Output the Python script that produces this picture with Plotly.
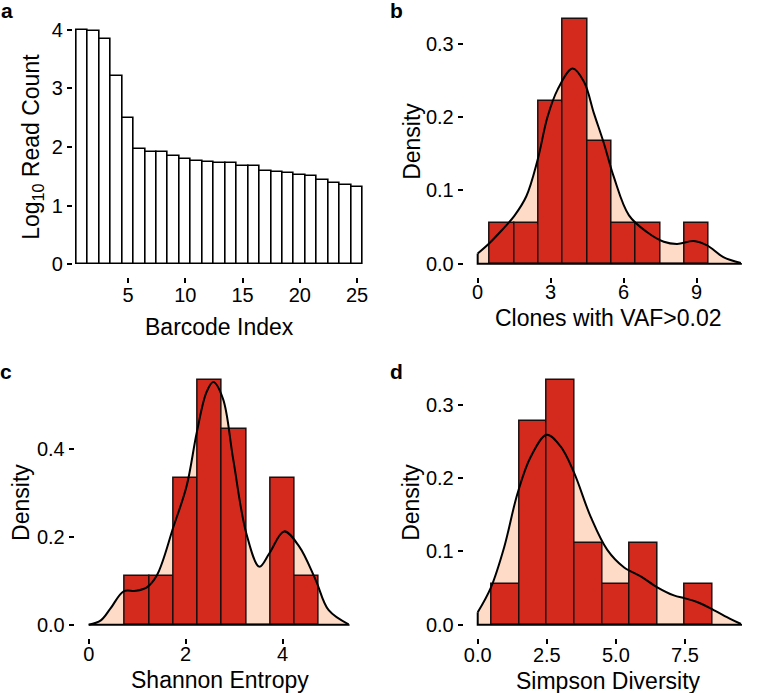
import plotly.graph_objects as go

W, H = 758, 693

# ---------------- data ----------------
# Panel a
barcode_index = list(range(1, 26))
log10_read_count = [4.00, 3.97, 3.85, 3.21, 2.49, 1.96, 1.92, 1.92, 1.84, 1.79,
                    1.76, 1.74, 1.73, 1.73, 1.67, 1.67, 1.59, 1.58, 1.56, 1.52,
                    1.51, 1.43, 1.38, 1.35, 1.32]

# Panel b
clones_bin_center = [1, 2, 3, 4, 5, 6, 7, 8, 9]
clones_density = [0.0556, 0.0556, 0.2222, 0.3333, 0.1667, 0.0556, 0.0556, 0.0, 0.0556]
clones_kde_x = [0.0, 0.48, 1.0, 1.5, 2.0, 2.46, 2.87, 3.28, 3.9, 4.37, 4.78, 5.19,
                5.6, 6.22, 6.97, 7.65, 8.2, 8.88, 9.43, 10.1, 10.82]
clones_kde_y = [0.014, 0.028, 0.046, 0.065, 0.092, 0.141, 0.200, 0.237, 0.266, 0.248,
                0.205, 0.164, 0.118, 0.066, 0.043, 0.030, 0.027, 0.031, 0.025, 0.009, 0.001]

# Panel c
shannon_bin_center = [1.0, 1.5, 2.0, 2.5, 3.0, 3.5, 4.0, 4.5]
shannon_density = [0.111, 0.111, 0.333, 0.556, 0.444, 0.0, 0.333, 0.111]
shannon_kde_x = [0.0, 0.25, 0.45, 0.72, 0.97, 1.2, 1.41, 1.75, 2.02, 2.23, 2.43, 2.57,
                 2.77, 2.98, 3.25, 3.52, 3.73, 4.03, 4.34, 4.68, 4.95, 5.36]
shannon_kde_y = [0.0, 0.010, 0.037, 0.076, 0.077, 0.085, 0.113, 0.223, 0.315, 0.437,
                 0.528, 0.551, 0.513, 0.376, 0.208, 0.132, 0.163, 0.212, 0.178, 0.102,
                 0.033, 0.001]

# Panel d
simpson_bin_center = [1, 2, 3, 4, 5, 6, 7, 8]
simpson_density = [0.0556, 0.2778, 0.3333, 0.1111, 0.0556, 0.1111, 0.0, 0.0556]
simpson_kde_x = [0.0, 0.48, 0.96, 1.44, 1.92, 2.5, 3.0, 3.49, 4.09, 4.69, 5.3, 5.9,
                 6.5, 7.1, 7.5, 7.94, 8.54, 9.14, 9.53]
simpson_kde_y = [0.017, 0.051, 0.106, 0.179, 0.229, 0.259, 0.243, 0.207, 0.147, 0.102,
                 0.078, 0.066, 0.051, 0.040, 0.036, 0.031, 0.020, 0.008, 0.001]

# ---------------- styling ----------------
FONT = "Liberation Sans"
RED = "#D42A1D"
PEACH = "#FDDBC7"
TICK_SIZE = 20
TITLE_SIZE = 23


def px_x(p):
    return p / W


def px_y(p):
    return 1 - p / H


fig = go.Figure()


def axis_style(domain, rng, tickvals, ticktext, anchor, standoff=0):
    return dict(domain=domain, range=rng, tickvals=tickvals, ticktext=ticktext,
                showline=True, linecolor="black", linewidth=1.7,
                ticks="outside", ticklen=5, tickwidth=1.7, tickcolor="black",
                showgrid=False, zeroline=False, anchor=anchor,
                ticklabelstandoff=standoff,
                tickfont=dict(family=FONT, size=TICK_SIZE, color="black"),
                fixedrange=True)


def density_panel(xa, ya, centers, dens, width, kx, ky):
    fig.add_trace(go.Scatter(x=kx, y=ky, mode="lines", fill="tozeroy",
                             fillcolor=PEACH, line=dict(width=0, shape="spline", color=PEACH),
                             xaxis=xa, yaxis=ya, zorder=0, showlegend=False,
                             hoverinfo="skip"))
    fig.add_trace(go.Bar(x=centers, y=dens, width=width,
                         marker=dict(color=RED, line=dict(color="#1a1010", width=1.5)),
                         xaxis=xa, yaxis=ya, zorder=1, showlegend=False))
    fig.add_trace(go.Scatter(x=kx, y=ky, mode="lines",
                             line=dict(color="black", width=2, shape="spline"),
                             xaxis=xa, yaxis=ya, zorder=2, showlegend=False))
    fig.add_trace(go.Scatter(x=[kx[0], kx[0], kx[-1], kx[-1]],
                             y=[ky[0], 0, 0, ky[-1]], mode="lines",
                             line=dict(color="black", width=2),
                             xaxis=xa, yaxis=ya, zorder=2, showlegend=False))


# Panel a
fig.add_trace(go.Bar(x=barcode_index, y=log10_read_count, width=1,
                     marker=dict(color="white", line=dict(color="black", width=1.6)),
                     xaxis="x", yaxis="y", showlegend=False))

density_panel("x2", "y2", clones_bin_center, clones_density, 1, clones_kde_x, clones_kde_y)
density_panel("x3", "y3", shannon_bin_center, shannon_density, 0.5, shannon_kde_x, shannon_kde_y)
density_panel("x4", "y4", simpson_bin_center, simpson_density, 1, simpson_kde_x, simpson_kde_y)

# domains in pixels
a_x = [px_x(73), px_x(366)]
a_y = [px_y(276), px_y(18)]
b_x = [px_x(466), px_x(757)]
b_y = [px_y(276), px_y(7)]
c_x = [px_x(75), px_x(366)]
c_y = [px_y(637), px_y(368)]
d_x = [px_x(466), px_x(757)]
d_y = [px_y(637), px_y(368)]

fig.update_layout(
    width=W, height=H,
    margin=dict(l=0, r=0, t=0, b=0),
    paper_bgcolor="white", plot_bgcolor="white",
    bargap=0, barmode="overlay",
    font=dict(family=FONT, color="black"),
    xaxis=axis_style(a_x, [0.25, 25.7], [5, 10, 15, 20, 25], ["5", "10", "15", "20", "25"], "y", -5),
    yaxis=axis_style(a_y, [-0.2, 4.2], [0, 1, 2, 3, 4], ["0", "1", "2", "3", "4"], "x"),
    xaxis2=axis_style(b_x, [-0.54, 11.36], [0, 3, 6, 9], ["0", "3", "6", "9"], "y2", -8),
    yaxis2=axis_style(b_y, [-0.0167, 0.35], [0, 0.1, 0.2, 0.3], ["0.0", "0.1", "0.2", "0.3"], "x2"),
    xaxis3=axis_style(c_x, [-0.27, 5.70], [0, 2, 4], ["0", "2", "4"], "y3", -7),
    yaxis3=axis_style(c_y, [-0.0278, 0.583], [0, 0.2, 0.4], ["0.0", "0.2", "0.4"], "x3"),
    xaxis4=axis_style(d_x, [-0.477, 10.0], [0, 2.5, 5, 7.5], ["0.0", "2.5", "5.0", "7.5"], "y4", -6),
    yaxis4=axis_style(d_y, [-0.0167, 0.35], [0, 0.1, 0.2, 0.3], ["0.0", "0.1", "0.2", "0.3"], "x4"),
)


def label(text, x, y, size, angle=0, bold=False):
    fig.add_annotation(text=f"<b>{text}</b>" if bold else text,
                       x=px_x(x), y=px_y(y), xref="paper", yref="paper",
                       xanchor="center", yanchor="middle", showarrow=False,
                       textangle=angle,
                       font=dict(family=FONT, size=size, color="black"))


# axis titles
label("Log<sub>10</sub> Read Count", 31, 147, TITLE_SIZE, angle=-90)
label("Barcode Index", 220, 327, TITLE_SIZE)
label("Density", 413, 141, TITLE_SIZE, angle=-90)
label("Clones with VAF>0.02", 611, 318, TITLE_SIZE)
label("Density", 20, 502, TITLE_SIZE, angle=-90)
label("Shannon Entropy", 220, 680, TITLE_SIZE)
label("Density", 412, 502, TITLE_SIZE, angle=-90)
label("Simpson Diversity", 611, 681, TITLE_SIZE)

# panel letters
label("a", 6, 11, 21, bold=True)
label("b", 398, 11, 21, bold=True)
label("c", 5, 371, 21, bold=True)
label("d", 398, 371, 21, bold=True)

fig.write_html(
    "out.html",
    config={"displayModeBar": False},
    post_script="document.body.style.margin='0';document.body.style.padding='0';"
                "document.body.style.overflow='hidden';",
)
